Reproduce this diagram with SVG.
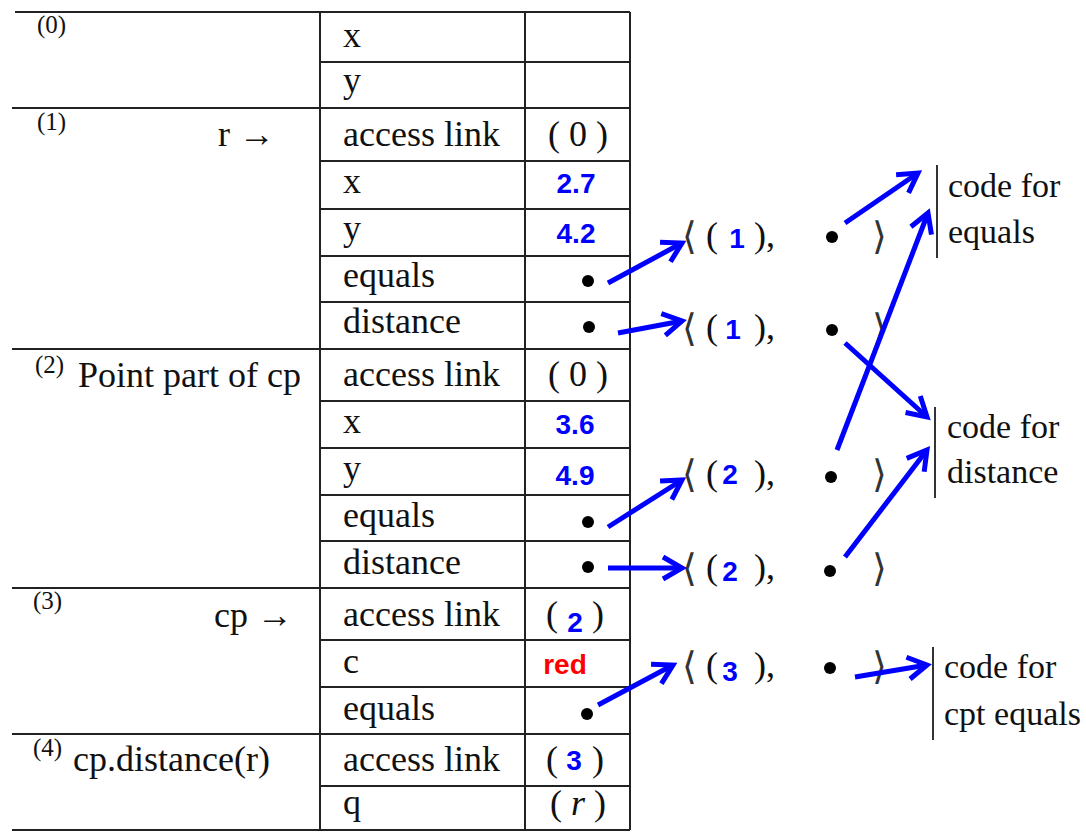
<svg xmlns="http://www.w3.org/2000/svg" width="1086" height="833" viewBox="0 0 1086 833">
<defs>
<style>
.t{font-family:"Liberation Serif","DejaVu Serif",serif;font-size:36px;fill:#111}
.s{font-family:"Liberation Serif","DejaVu Serif",serif;font-size:25px;fill:#111}
.c{font-family:"Liberation Serif","DejaVu Serif",serif;font-size:34px;fill:#111}
.br{font-family:"DejaVu Sans","DejaVu Serif",sans-serif;font-weight:200;font-size:38px;fill:#333}
.b{font-family:"Liberation Sans",Arial,sans-serif;font-size:28px;font-weight:bold;fill:#0000ff;text-anchor:middle}
.r{font-family:"Liberation Sans",Arial,sans-serif;font-size:28px;font-weight:bold;fill:#ff0000;text-anchor:middle}
.m{text-anchor:middle}
.ln{stroke:#222;stroke-width:2;fill:none}
.bar{stroke:#333;stroke-width:2}
.a{stroke:#0000ff;stroke-width:5;fill:none;marker-end:url(#ah)}
</style>
<marker id="ah" markerUnits="userSpaceOnUse" markerWidth="28" markerHeight="28" viewBox="0 0 28 28" refX="23" refY="14" orient="auto">
<path d="M4,3 L23,14 L4,25" fill="none" stroke="#0000ff" stroke-width="5"/>
</marker>
</defs>
<rect width="1086" height="833" fill="#fff"/>

<g id="table-grid">
<path class="ln" d="M15,12 H630 M320,62 H630 M12,108 H630 M320,161 H630 M320,209 H630 M320,256 H630 M320,302 H630 M12,349 H630 M320,401 H630 M320,448 H630 M320,495 H630 M320,541 H630 M12,588 H630 M320,640 H630 M320,687 H630 M12,734 H630 M320,786 H630 M12,830 H630"/>
<path class="ln" d="M320,12 V830 M525,12 V830 M630,12 V830"/>
</g>

<g id="frame0">
<text class="s" x="37" y="33">(0)</text>
<text class="t" x="343" y="47">x</text>
<text class="t" x="343" y="92">y</text>
</g>

<g id="frame1">
<text class="s" x="37" y="130">(1)</text>
<text class="t" x="218" y="146">r →</text>
<text class="t" x="343" y="146">access link</text>
<text class="t m" x="578" y="146">( 0 )</text>
<text class="t" x="343" y="193">x</text>
<text class="b" x="576" y="193">2.7</text>
<text class="t" x="343" y="240">y</text>
<text class="b" x="576" y="243">4.2</text>
<text class="t" x="343" y="287">equals</text>
<circle cx="588" cy="281" r="6" fill="#000"/>
<text class="t" x="343" y="333">distance</text>
<circle cx="589" cy="327" r="6" fill="#000"/>
</g>

<g id="frame2">
<text class="s" x="35" y="373">(2)</text>
<text class="t" x="78" y="387">Point part of cp</text>
<text class="t" x="343" y="386">access link</text>
<text class="t m" x="578" y="386">( 0 )</text>
<text class="t" x="343" y="433">x</text>
<text class="b" x="575" y="434">3.6</text>
<text class="t" x="343" y="480">y</text>
<text class="b" x="575" y="485">4.9</text>
<text class="t" x="343" y="527">equals</text>
<circle cx="588" cy="522" r="6" fill="#000"/>
<text class="t" x="343" y="574">distance</text>
<circle cx="588" cy="567" r="6" fill="#000"/>
</g>

<g id="frame3">
<text class="s" x="33" y="609">(3)</text>
<text class="t" x="214" y="627">cp →</text>
<text class="t" x="343" y="626">access link</text>
<text class="t" x="546" y="626">(</text>
<text class="b" x="575" y="632">2</text>
<text class="t" x="592" y="626">)</text>
<text class="t" x="343" y="673">c</text>
<text class="r" x="565" y="674">red</text>
<text class="t" x="343" y="720">equals</text>
<circle cx="587" cy="714" r="6" fill="#000"/>
</g>

<g id="frame4">
<text class="s" x="33" y="756">(4)</text>
<text class="t" x="73" y="771">cp.distance(r)</text>
<text class="t" x="343" y="771">access link</text>
<text class="t" x="546" y="771">(</text>
<text class="b" x="574" y="770">3</text>
<text class="t" x="592" y="771">)</text>
<text class="t" x="343" y="814">q</text>
<text class="t m" x="578" y="815">( <tspan font-style="italic">r</tspan> )</text>
</g>

<g id="closure1">
<text class="br" x="682" y="249">⟨</text>
<text class="t" x="706" y="247">(</text>
<text class="b" x="737" y="248">1</text>
<text class="t" x="754" y="247">),</text>
<circle cx="832" cy="237" r="6" fill="#000"/>
<text class="br" x="872" y="249">⟩</text>
</g>
<g id="closure2">
<text class="br" x="682" y="341">⟨</text>
<text class="t" x="706" y="339">(</text>
<text class="b" x="733" y="339">1</text>
<text class="t" x="754" y="339">),</text>
<circle cx="832" cy="330" r="6" fill="#000"/>
<text class="br" x="872" y="341">⟩</text>
</g>
<g id="closure3">
<text class="br" x="682" y="487">⟨</text>
<text class="t" x="706" y="485">(</text>
<text class="b" x="730" y="484">2</text>
<text class="t" x="754" y="485">),</text>
<circle cx="831" cy="477" r="6" fill="#000"/>
<text class="br" x="872" y="487">⟩</text>
</g>
<g id="closure4">
<text class="br" x="682" y="581">⟨</text>
<text class="t" x="706" y="579">(</text>
<text class="b" x="730" y="581">2</text>
<text class="t" x="754" y="579">),</text>
<circle cx="830" cy="571" r="6" fill="#000"/>
<text class="br" x="872" y="581">⟩</text>
</g>
<g id="closure5">
<text class="br" x="682" y="679">⟨</text>
<text class="t" x="706" y="677">(</text>
<text class="b" x="730" y="681">3</text>
<text class="t" x="754" y="677">),</text>
<circle cx="830" cy="668" r="6" fill="#000"/>
<text class="br" x="872" y="679">⟩</text>
</g>

<g id="code-equals">
<line class="bar" x1="937" y1="165" x2="937" y2="258"/>
<text class="c" x="948" y="197">code for</text>
<text class="c" x="948" y="243">equals</text>
</g>
<g id="code-distance">
<line class="bar" x1="935" y1="407" x2="935" y2="498"/>
<text class="c" x="947" y="438">code for</text>
<text class="c" x="947" y="483">distance</text>
</g>
<g id="code-cpt-equals">
<line class="bar" x1="933" y1="647" x2="933" y2="740"/>
<text class="c" x="944" y="678">code for</text>
<text class="c" x="944" y="725">cpt equals</text>
</g>

<g id="connectors">
<line class="a" x1="608" y1="283" x2="682" y2="243"/>
<line class="a" x1="618" y1="333" x2="682" y2="321"/>
<line class="a" x1="845" y1="223" x2="918" y2="173"/>
<line class="a" x1="845" y1="343" x2="927" y2="417"/>
<line class="a" x1="837" y1="450" x2="928" y2="213"/>
<line class="a" x1="608" y1="527" x2="682" y2="480"/>
<line class="a" x1="608" y1="568" x2="682" y2="568"/>
<line class="a" x1="845" y1="557" x2="927" y2="450"/>
<line class="a" x1="598" y1="705" x2="673" y2="665"/>
<line class="a" x1="855" y1="677" x2="927" y2="665"/>
</g>
</svg>
